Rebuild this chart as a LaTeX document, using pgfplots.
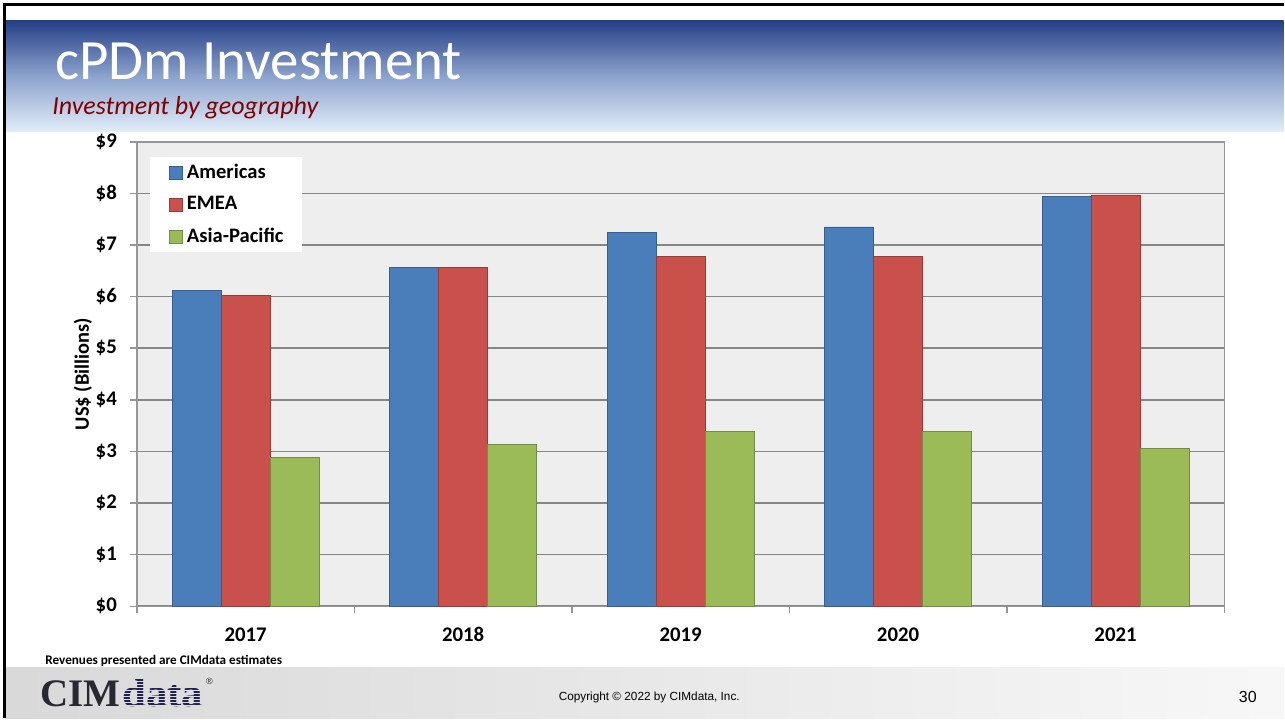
\documentclass[border=0pt]{standalone}
\usepackage{fontspec}
\setmainfont{Carlito}
\newfontfamily\seriffont{Liberation Serif}
\newfontfamily\arialfont{Liberation Sans}
\usepackage{pgfplots}
\pgfplotsset{compat=1.18}
\definecolor{cblue}{RGB}{74,126,187}
\definecolor{cred}{RGB}{201,80,75}
\definecolor{cgreen}{RGB}{155,187,89}
\definecolor{plotbg}{RGB}{238,238,238}
\definecolor{gridc}{RGB}{134,134,134}
\definecolor{axisc}{RGB}{150,150,150}
\definecolor{subred}{RGB}{128,0,0}
\definecolor{bannertop}{RGB}{38,64,136}
\definecolor{bannermid}{RGB}{140,163,205}
\definecolor{bannerbot}{RGB}{226,237,249}
\definecolor{logoc}{RGB}{40,40,50}
\begin{document}
\begin{tikzpicture}[x=0.5pt,y=0.5pt]
\fill[white] (0,0) rectangle (1285,719);
% banner
\shade[top color=bannertop, bottom color=bannerbot, middle color=bannermid] (5,587) rectangle (1285,698);
% footer
\shade[left color=black!15, right color=black!3] (5,0) rectangle (1285,51);
% frame
\draw[line width=1.5pt] (5,0) -- (5,714) -- (1285,714);
% titles
\node[anchor=base west, inner sep=0, text=white, font=\fontsize{28.5}{34}\selectfont] at (55,639) {cPDm Investment};
\node[anchor=base west, inner sep=0, text=subred, font=\itshape\fontsize{13}{16}\selectfont] at (52,604) {Investment by geography};

\begin{axis}[
  at={(68.5pt,56pt)}, anchor=south west,
  scale only axis, width=544.35pt, height=232.5pt,
  xmin=-0.5, xmax=4.5, ymin=0, ymax=9,
  ybar=0pt, bar width=24.5pt,
  axis background/.style={fill=plotbg},
  axis line style={axisc, line width=0.75pt},
  ymajorgrids, grid style={gridc, line width=0.8pt},
  ytick={0,...,9},
  yticklabel={\$\pgfmathprintnumber{\tick}},
  xtick={0,...,4}, xticklabels={2017,2018,2019,2020,2021},
  minor xtick={-0.5,0.5,1.5,2.5,3.5,4.5},
  tick pos=left,
  tick align=outside, major tick length=3.5pt, minor tick length=3.5pt,
  tick style={axisc, line width=0.75pt},
  major x tick style={draw=none},
  /pgf/number format/assume math mode=true,
  ticklabel style={font=\bfseries\fontsize{10.4}{12}\selectfont},
  yticklabel style={xshift=-3pt},
  xticklabel style={yshift=-3.5pt, text height=7pt, text depth=0pt},
  ylabel={US\$ (Billions)},
  ylabel shift=-5pt,
  ylabel style={font=\bfseries\fontsize{10.2}{12}\selectfont},
  legend cell align=left,
  legend style={at={(0.0119,0.968)}, anchor=north west, draw=none, fill=white,
    font=\bfseries\fontsize{10.3}{12}\selectfont, inner xsep=7.5pt, inner ysep=1.5pt, row sep=3.5pt},
  legend image code/.code={\path (-2pt,0pt); \draw[#1] (0pt,-3.25pt) rectangle (6.5pt,3.25pt);},
]
\addplot[fill=cblue, draw=cblue!75!black, line width=0.4pt] coordinates {(0,6.12) (1,6.56) (2,7.24) (3,7.35) (4,7.95)};
\addplot[fill=cred, draw=cred!75!black, line width=0.4pt] coordinates {(0,6.02) (1,6.56) (2,6.78) (3,6.78) (4,7.97)};
\addplot[fill=cgreen, draw=cgreen!75!black, line width=0.4pt] coordinates {(0,2.89) (1,3.14) (2,3.38) (3,3.39) (4,3.06)};
\legend{Americas,EMEA,Asia-Pacific}
\end{axis}

% footer texts
\node[anchor=base west, inner sep=0, font=\bfseries\fontsize{6.6}{8}\selectfont] at (45,54) {Revenues presented are CIMdata estimates};
\node[anchor=base west, inner sep=0, font=\seriffont\bfseries\fontsize{19.5}{22}\selectfont, text=logoc] at (40,12) {CIM};
\node[anchor=base west, inner sep=0, font=\seriffont\bfseries\fontsize{19.5}{22}\selectfont, text=logoc!85!blue] at (122,12) {\scalebox{1.1}[1]{data}};
\foreach \yy in {13,16,...,40} {\draw[black!13.5, line width=0.45pt] (120,\yy) -- (208,\yy);}
\node[anchor=base west, inner sep=0, font=\arialfont\fontsize{4.5}{5}\selectfont, text=logoc] at (206,34) {®};
\node[anchor=base, inner sep=0, font=\arialfont\fontsize{5.9}{7}\selectfont] at (650,18) {Copyright © 2022 by CIMdata, Inc.};
\node[anchor=base west, inner sep=0, font=\arialfont\fontsize{8}{9}\selectfont] at (1240,16) {30};
\end{tikzpicture}
\end{document}
